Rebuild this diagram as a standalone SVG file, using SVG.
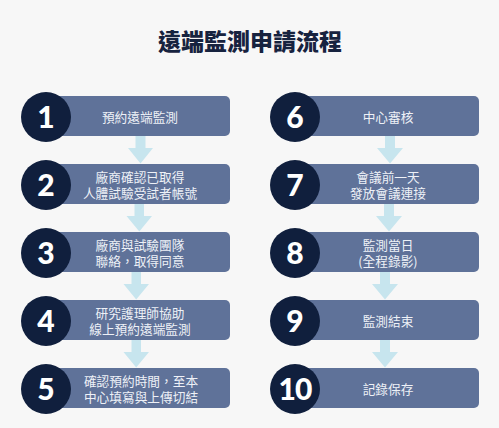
<svg xmlns="http://www.w3.org/2000/svg" width="499" height="428" viewBox="0 0 499 428">
<style>
.bg{fill:#f7f7f7}
.title{font-family:"Noto Sans CJK TC","Noto Sans CJK SC",sans-serif;font-size:23px;font-weight:900;fill:#17233f;text-anchor:middle}
.box{fill:#5f7299}
.circ{fill:#101f3d}
.num{font-family:Lato,"Open Sans",sans-serif;font-size:30px;font-weight:900;fill:#ffffff;text-anchor:middle}
.lbl{font-family:"Noto Sans CJK TC","Noto Sans CJK SC",sans-serif;font-size:12.7px;fill:#eef1f7;text-anchor:middle}
.arr{fill:#c7e5ee}
</style>
<rect class="bg" x="0" y="0" width="499" height="428"/>
<text class="title" x="250" y="50">遠端監測申請流程</text>
<g id="connectors">
<path class="arr" d="M135.5 136 H145.5 V148 H153 L140.5 163.5 L128 148 H135.5 Z"/>
<path class="arr" d="M134.5 204 H144 V216 H152 L139.3 231.5 L126.5 216 H134.5 Z"/>
<path class="arr" d="M131.5 272 H141 V284 H149 L136.2 299.5 L123.5 284 H131.5 Z"/>
<path class="arr" d="M131.5 340 H141 V352 H149 L136.2 367.5 L123.5 352 H131.5 Z"/>
<path class="arr" d="M385 136 H395 V148 H403 L390 163.5 L377 148 H385 Z"/>
<path class="arr" d="M384 204 H394 V216 H402 L389 231.5 L376 216 H384 Z"/>
<path class="arr" d="M380 272 H390 V284 H398 L385 299.5 L372 284 H380 Z"/>
<path class="arr" d="M380 340 H390 V352 H398 L385 367.5 L372 352 H380 Z"/>
</g>
<g id="step1"><rect class="box" x="50" y="96" width="180" height="40" rx="5"/><circle class="circ" cx="46" cy="117" r="25"/><text class="num" x="46" y="128">1</text><text class="lbl" x="140" y="122">預約遠端監測</text></g>
<g id="step2"><rect class="box" x="50" y="164" width="180" height="40" rx="5"/><circle class="circ" cx="46" cy="185" r="25"/><text class="num" x="46" y="196">2</text><text class="lbl" x="140" y="182">廠商確認已取得</text><text class="lbl" x="140" y="198">人體試驗受試者帳號</text></g>
<g id="step3"><rect class="box" x="50" y="232" width="180" height="40" rx="5"/><circle class="circ" cx="46" cy="253" r="25"/><text class="num" x="46" y="264">3</text><text class="lbl" x="140" y="250">廠商與試驗團隊</text><text class="lbl" x="140" y="266">聯絡，取得同意</text></g>
<g id="step4"><rect class="box" x="50" y="300" width="180" height="40" rx="5"/><circle class="circ" cx="46" cy="321" r="25"/><text class="num" x="46" y="332">4</text><text class="lbl" x="140" y="318">研究護理師協助</text><text class="lbl" x="140" y="334">線上預約遠端監測</text></g>
<g id="step5"><rect class="box" x="50" y="368" width="180" height="40" rx="5"/><circle class="circ" cx="46" cy="389" r="25"/><text class="num" x="46" y="400">5</text><text class="lbl" x="141" y="386">確認預約時間，至本</text><text class="lbl" x="141" y="402">中心填寫與上傳切結</text></g>
<g id="step6"><rect class="box" x="299" y="96" width="180" height="40" rx="5"/><circle class="circ" cx="295" cy="117" r="25"/><text class="num" x="295" y="128">6</text><text class="lbl" x="388" y="122">中心審核</text></g>
<g id="step7"><rect class="box" x="299" y="164" width="180" height="40" rx="5"/><circle class="circ" cx="295" cy="185" r="25"/><text class="num" x="295" y="196">7</text><text class="lbl" x="388" y="182">會議前一天</text><text class="lbl" x="388" y="198">發放會議連接</text></g>
<g id="step8"><rect class="box" x="299" y="232" width="180" height="40" rx="5"/><circle class="circ" cx="295" cy="253" r="25"/><text class="num" x="295" y="264">8</text><text class="lbl" x="388" y="250">監測當日</text><text class="lbl" x="388" y="266">(全程錄影)</text></g>
<g id="step9"><rect class="box" x="299" y="300" width="180" height="40" rx="5"/><circle class="circ" cx="295" cy="321" r="25"/><text class="num" x="295" y="332">9</text><text class="lbl" x="388" y="326">監測結束</text></g>
<g id="step10"><rect class="box" x="299" y="368" width="180" height="40" rx="5"/><circle class="circ" cx="295" cy="389" r="25"/><text class="num" x="295" y="400" letter-spacing="-1">10</text><text class="lbl" x="388" y="394">記錄保存</text></g>
</svg>
